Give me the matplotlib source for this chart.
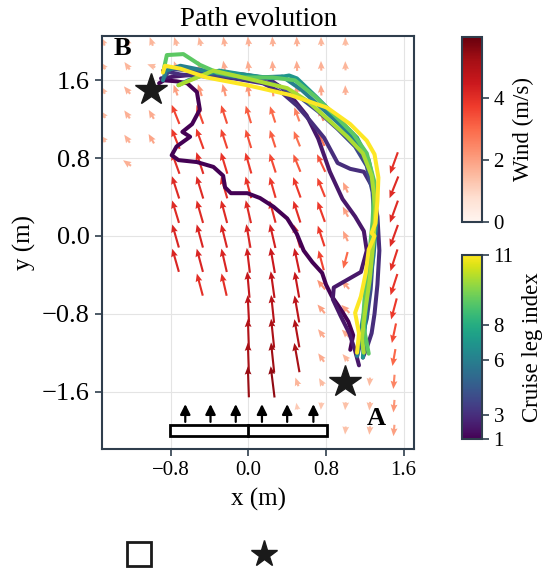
import numpy as np
import matplotlib
matplotlib.use("Agg")
import matplotlib.pyplot as plt
from matplotlib.patches import Rectangle
from matplotlib.lines import Line2D
from matplotlib.colors import Normalize
from matplotlib.cm import ScalarMappable

plt.rcParams['font.family'] = 'serif'
plt.rcParams['font.serif'] = ['Liberation Serif', 'DejaVu Serif']

# wind grid (m) and values, 0 = no arrow
grid_x = [-1.5, -1.25, -1.0, -0.75, -0.5, -0.25, 0.0, 0.25, 0.5, 0.75, 1.0, 1.25, 1.5]
grid_y = [2.0, 1.75, 1.5, 1.25, 1.0, 0.75, 0.5, 0.25, 0.0, -0.25, -0.5, -0.75,
          -1.0, -1.25, -1.5, -1.75, -2.0]
wind_speed = [
    [1.6, 1.6, 1.6, 1.6, 1.6, 1.7, 1.7, 1.7, 1.7, 1.6, 1.5, 0, 0],
    [1.5, 1.6, 1.5, 1.7, 1.8, 1.8, 1.8, 1.8, 1.8, 1.7, 1.6, 0, 0],
    [1.5, 1.7, 0, 2.0, 2.2, 2.2, 2.2, 2.2, 2.0, 1.9, 1.7, 0, 0],
    [1.5, 1.7, 1.8, 3.6, 3.5, 3.4, 3.2, 3.0, 2.6, 2.4, 0, 0, 0],
    [1.5, 1.7, 1.9, 3.8, 3.8, 3.6, 3.4, 3.2, 2.9, 2.8, 0, 0, 0],
    [0, 1.7, 0, 4.0, 4.0, 3.9, 3.8, 3.5, 3.3, 3.4, 0, 0, 4.0],
    [0, 0, 0, 4.1, 4.1, 4.0, 3.9, 3.8, 3.8, 3.6, 2.0, 0, 4.1],
    [0, 0, 0, 4.1, 4.1, 4.1, 4.1, 4.0, 4.0, 3.8, 2.0, 0, 4.1],
    [0, 0, 0, 4.2, 4.2, 4.2, 4.2, 4.3, 4.2, 3.8, 2.0, 0, 4.1],
    [0, 0, 0, 4.2, 4.2, 4.2, 4.4, 4.5, 4.4, 3.6, 3.0, 0, 4.0],
    [0, 0, 0, 0, 4.0, 4.0, 4.6, 4.7, 4.6, 2.2, 2.0, 0, 3.9],
    [0, 0, 0, 0, 0, 0, 4.8, 4.9, 4.8, 2.0, 2.0, 0, 3.8],
    [0, 0, 0, 0, 0, 0, 5.0, 5.1, 5.0, 1.8, 1.8, 0, 3.5],
    [0, 0, 0, 0, 0, 0, 5.2, 5.3, 5.2, 1.8, 1.6, 0, 3.0],
    [0, 0, 0, 0, 0, 0, 5.4, 5.5, 1.6, 1.5, 0, 1.5, 2.5],
    [0, 0, 0, 0, 0, 0, 0, 0, 1.2, 1.3, 1.4, 1.5, 2.2],
    [0, 0, 0, 0, 0, 0, 0, 0, 1.2, 1.3, 1.4, 1.5, 2.0],
]
wind_dir = [
    [115, 115, 110, 108, 105, 100, 98, 95, 93, 92, 92, 0, 0],
    [125, 125, 160, 110, 105, 100, 98, 95, 93, 92, 92, 0, 0],
    [120, 130, 0, 110, 108, 105, 100, 97, 95, 93, 92, 0, 0],
    [125, 125, 120, 112, 110, 108, 107, 108, 110, 110, 0, 0, 0],
    [130, 125, 120, 112, 110, 108, 107, 108, 112, 115, 0, 0, 0],
    [0, 145, 0, 110, 108, 107, 106, 108, 112, 115, 0, 0, 250],
    [0, 0, 0, 108, 107, 106, 105, 106, 110, 112, 115, 0, 248],
    [0, 0, 0, 107, 106, 105, 103, 105, 108, 110, 118, 0, 250],
    [0, 0, 0, 106, 105, 104, 100, 103, 106, 108, 115, 0, 250],
    [0, 0, 0, 106, 105, 103, 97, 100, 102, 105, 255, 0, 252],
    [0, 0, 0, 0, 105, 103, 95, 98, 100, 130, 130, 0, 252],
    [0, 0, 0, 0, 0, 0, 93, 96, 100, 130, 135, 0, 255],
    [0, 0, 0, 0, 0, 0, 92, 96, 100, 128, 135, 0, 258],
    [0, 0, 0, 0, 0, 0, 92, 96, 100, 125, 130, 0, 260],
    [0, 0, 0, 0, 0, 0, 92, 97, 110, 120, 0, 265, 265],
    [0, 0, 0, 0, 0, 0, 0, 0, 100, 265, 265, 265, 265],
    [0, 0, 0, 0, 0, 0, 0, 0, 265, 265, 265, 265, 265],
]

# cruise legs
leg_ids = [1, 2, 3, 4, 6, 7, 9, 10, 11]
path_x = [
    [-0.92, -0.87, -0.74, -0.63, -0.53, -0.50, -0.58, -0.68, -0.60, -0.74, -0.79, -0.72, -0.53,
     -0.36, -0.26, -0.24, -0.18, -0.01, 0.12, 0.26, 0.40, 0.50, 0.57, 0.66, 0.76, 0.80, 0.86,
     0.95, 1.03, 1.08, 1.05],
    [-0.90, -0.75, -0.55, -0.30, -0.05, 0.20, 0.35, 0.47, 0.60, 0.72, 0.84, 0.97, 1.10, 1.19,
     1.22, 1.16, 1.02, 0.88, 0.87, 0.95, 1.04, 1.10, 1.14],
    [-0.88, -0.70, -0.45, -0.15, 0.15, 0.35, 0.50, 0.64, 0.78, 0.92, 1.05, 1.19, 1.28, 1.33,
     1.35, 1.33, 1.30, 1.27, 1.22, 1.18],
    [-0.86, -0.80, -0.60, -0.35, -0.05, 0.25, 0.50, 0.72, 0.92, 1.10, 1.22, 1.28, 1.30, 1.28,
     1.26, 1.22, 1.16, 1.12],
    [-0.88, -0.85, -0.70, -0.45, -0.20, 0.10, 0.35, 0.55, 0.75, 0.95, 1.12, 1.24, 1.30, 1.32,
     1.29, 1.24, 1.18, 1.14, 1.12],
    [-0.72, -0.62, -0.45, -0.30, -0.05, 0.25, 0.42, 0.50, 0.70, 0.91, 1.12, 1.22, 1.29, 1.30,
     1.26, 1.22, 1.20, 1.18],
    [-0.87, -0.84, -0.67, -0.50, -0.32, -0.05, 0.25, 0.48, 0.68, 0.88, 1.08, 1.22, 1.30, 1.28,
     1.24, 1.20, 1.18, 1.22, 1.24],
    [-0.72, -0.60, -0.36, -0.10, 0.15, 0.40, 0.62, 0.82, 1.02, 1.18, 1.27, 1.31, 1.29, 1.25,
     1.20, 1.17, 1.19],
    [-0.88, -0.86, -0.70, -0.43, -0.01, 0.43, 0.81, 1.05, 1.22, 1.30, 1.34, 1.33, 1.31, 1.27,
     1.30, 1.24, 1.21, 1.16, 1.10, 1.14, 1.12],
]
path_y = [
    [1.57, 1.60, 1.59, 1.57, 1.48, 1.30, 1.15, 1.07, 1.02, 0.92, 0.83, 0.78, 0.76, 0.71, 0.62,
     0.50, 0.44, 0.44, 0.39, 0.30, 0.18, 0.02, -0.15, -0.27, -0.38, -0.50, -0.62, -0.75, -0.88,
     -1.02, -1.17],
    [1.62, 1.64, 1.66, 1.68, 1.66, 1.62, 1.52, 1.40, 1.24, 1.00, 0.66, 0.38, 0.20, 0.05, -0.15,
     -0.37, -0.45, -0.53, -0.65, -0.82, -1.00, -1.18, -1.33],
    [1.70, 1.66, 1.64, 1.62, 1.57, 1.47, 1.34, 1.18, 1.01, 0.75, 0.69, 0.66, 0.50, 0.20, -0.15,
     -0.50, -0.80, -1.00, -1.15, -1.25],
    [1.64, 1.72, 1.70, 1.66, 1.62, 1.57, 1.45, 1.28, 1.10, 0.92, 0.72, 0.45, 0.10, -0.25,
     -0.55, -0.85, -1.08, -1.24],
    [1.60, 1.70, 1.75, 1.70, 1.65, 1.63, 1.64, 1.50, 1.32, 1.14, 0.96, 0.78, 0.50, 0.15, -0.20,
     -0.55, -0.85, -1.10, -1.23],
    [1.55, 1.60, 1.66, 1.70, 1.66, 1.62, 1.65, 1.62, 1.43, 1.22, 1.01, 0.81, 0.55, 0.20, -0.20,
     -0.60, -0.95, -1.25],
    [1.72, 1.86, 1.87, 1.76, 1.68, 1.63, 1.63, 1.60, 1.44, 1.25, 1.05, 0.85, 0.55, 0.15, -0.25,
     -0.60, -0.90, -1.10, -1.21],
    [1.55, 1.60, 1.70, 1.64, 1.58, 1.52, 1.38, 1.20, 1.02, 0.85, 0.62, 0.30, -0.05, -0.45,
     -0.80, -1.05, -1.20],
    [1.68, 1.75, 1.72, 1.63, 1.55, 1.45, 1.32, 1.15, 0.98, 0.84, 0.60, 0.36, 0.13, 0.03, 0.00,
     -0.14, -0.38, -0.62, -0.79, -1.00, -1.20],
]
leg_ticks = [1, 3, 6, 8, 11]
leg_tick_pos = [0.0, 0.13, 0.43, 0.62, 1.0]

# start / goal markers and the fan array
star_x = [-1.0, 1.0]
star_y = [1.5, -1.5]
fan_x = [-0.65, -0.39, -0.13, 0.14, 0.40, 0.67]

slate = '#2f3e4d'

fig = plt.figure(figsize=(5.5, 5.76), dpi=100)
ax = fig.add_axes([0.186, 0.2205, 0.5673, 0.717])

X, Y = np.meshgrid(grid_x, grid_y)
S = np.array(wind_speed, dtype=float)
D = np.radians(np.array(wind_dir, dtype=float))
m = S > 0
U = S * np.cos(D)
V = S * np.sin(D)
q = ax.quiver(X[m], Y[m], U[m], V[m], S[m], cmap='Reds', norm=Normalize(0, 6),
              angles='xy', scale_units='xy', scale=17, pivot='middle',
              width=0.0068, headwidth=3.2, headlength=3.8, headaxislength=3.4, zorder=2)

leg_cmap = plt.get_cmap('viridis')
for lid, px, py in zip(leg_ids, path_x, path_y):
    c = leg_cmap(np.interp(lid, leg_ticks, leg_tick_pos))
    ax.plot(px, py, color=c, lw=2.9, solid_capstyle='round', solid_joinstyle='round', zorder=3)

ax.plot(star_x, star_y, ls='none', marker='*', ms=24, color='#1a1a1a', zorder=5)

# fan array box + arrows
ax.add_patch(Rectangle((-0.81, -2.06), 1.62, 0.12, facecolor='white', edgecolor='black',
                       lw=2, zorder=4))
ax.plot([0, 0], [-2.06, -1.94], color='black', lw=2, zorder=5)
for fx in fan_x:
    ax.annotate('', xy=(fx, -1.70), xytext=(fx, -1.94),
                arrowprops=dict(arrowstyle='-|>', color='black', lw=1.6, mutation_scale=15),
                zorder=5)

ax.text(-1.30, 1.93, 'B', fontsize=19, fontweight='bold', ha='center', va='center', zorder=6)
ax.text(1.315, -1.88, 'A', fontsize=19, fontweight='bold', ha='center', va='center', zorder=6)

ax.set_xlim(-1.505, 1.71)
ax.set_ylim(-2.19, 2.056)
ax.set_xticks([-0.8, 0.0, 0.8, 1.6])
ax.set_yticks([-1.6, -0.8, 0.0, 0.8, 1.6])
ax.grid(True, color='#e4e4e4', lw=0.8, zorder=0)
ax.set_axisbelow(True)
for sp in ax.spines.values():
    sp.set_color(slate)
    sp.set_linewidth(1.5)
ax.tick_params(length=5, width=1.2, color=slate, pad=4)
ax.tick_params(axis='x', labelsize=15)
ax.tick_params(axis='y', labelsize=19)
ax.set_xlabel('x (m)', fontsize=18, labelpad=5)
ax.set_ylabel('y (m)', fontsize=18, labelpad=4)
ax.set_title('Path evolution', fontsize=19.5, pad=7)

# colorbars
cax1 = fig.add_axes([0.8395, 0.615, 0.0364, 0.321])
cb1 = fig.colorbar(q, cax=cax1)
cb1.set_ticks([0, 2, 4])
cb1.set_label('Wind (m/s)', fontsize=16.5, labelpad=6)
cax2 = fig.add_axes([0.8395, 0.2378, 0.0364, 0.3194])
cb2 = fig.colorbar(ScalarMappable(norm=Normalize(0, 1), cmap=leg_cmap), cax=cax2)
cb2.set_ticks(leg_tick_pos)
cb2.set_ticklabels([str(t) for t in leg_ticks])
cb2.set_label('Cruise leg index', fontsize=16.5, labelpad=6)
for cb in (cb1, cb2):
    cb.outline.set_edgecolor(slate)
    cb.outline.set_linewidth(1.5)
    cb.ax.tick_params(labelsize=15, length=5, width=1.2, color=slate)

# legend below (markers only)
h_box = Line2D([], [], ls='none', marker='s', ms=17, mfc='white', mec='#1a1a1a', mew=2)
h_star = Line2D([], [], ls='none', marker='*', ms=20, color='#1a1a1a')
fig.legend([h_box, h_star], ['', ''], ncol=2, loc='center', frameon=False, fontsize=12,
           bbox_to_anchor=(206 / 550, 1 - 556 / 576), handlelength=1.5, handletextpad=0.5,
           columnspacing=5.5)

fig.savefig('out.png', dpi=100)
